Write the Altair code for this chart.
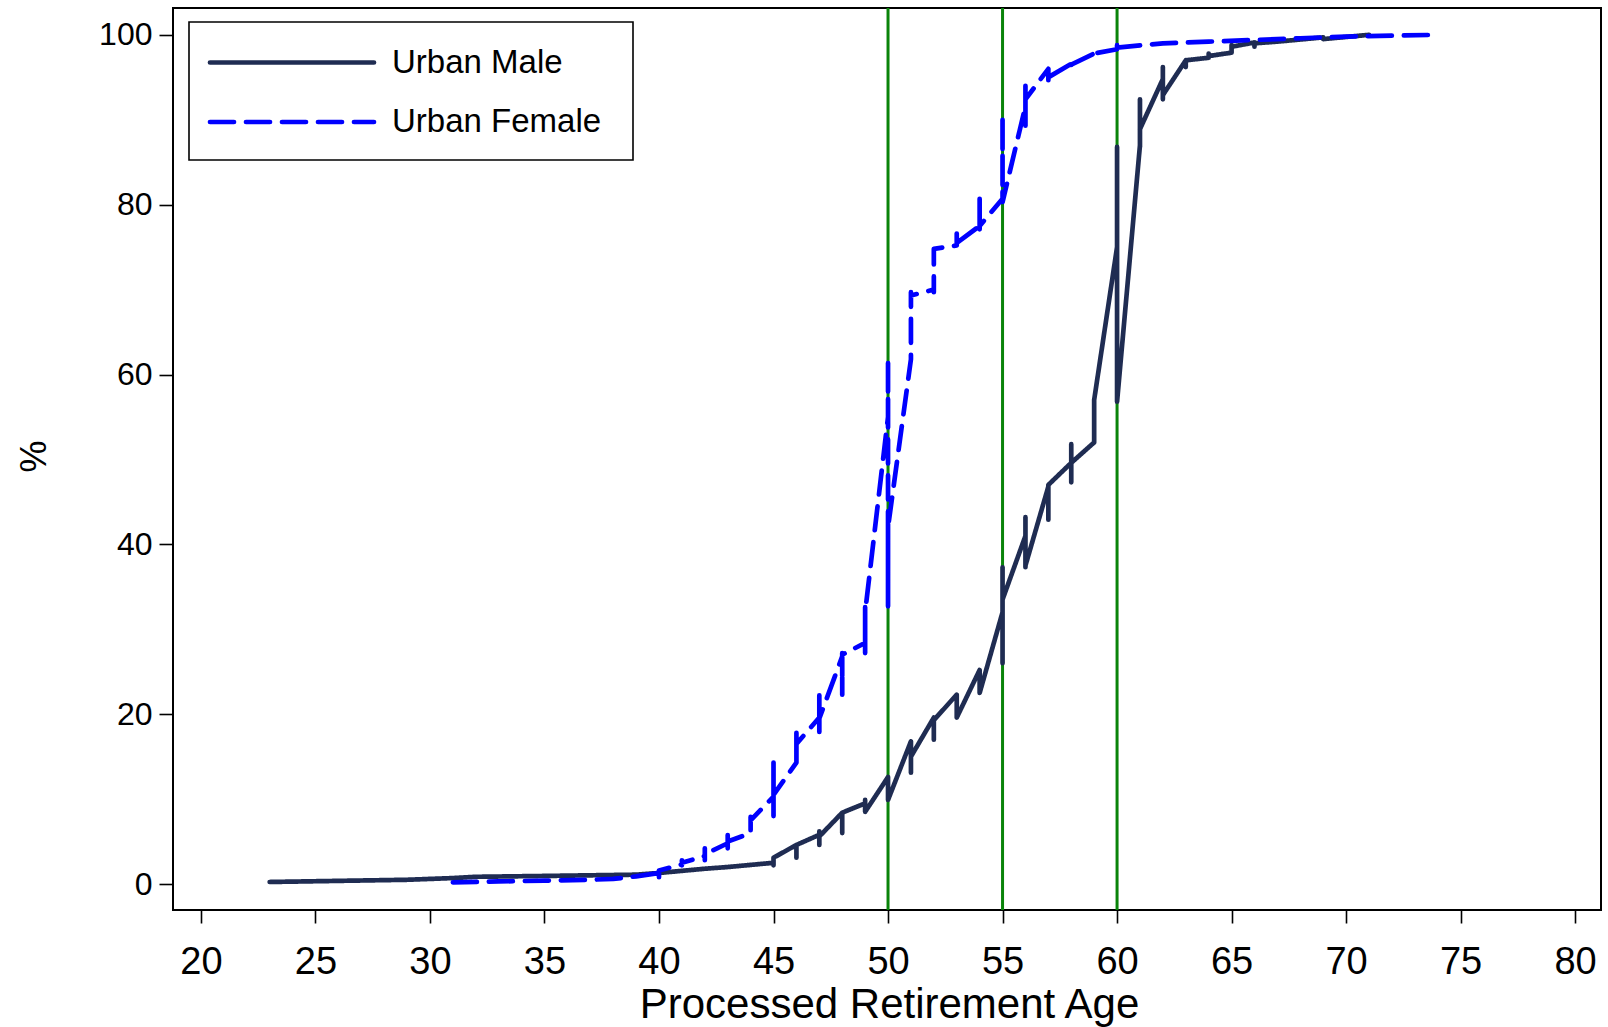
import altair as alt
import pandas as pd

# ---------------- data ----------------
series_names = ["Urban Male", "Urban Female"]
series_colors = ["#1f2c52", "#0000ff"]
ref_ages = [50, 55, 60]
x_ticks = [20, 25, 30, 35, 40, 45, 50, 55, 60, 65, 70, 75, 80]
y_ticks = [0, 20, 40, 60, 80, 100]

male_age = [23, 29, 31, 32, 35, 39, 40, 42, 43,
            45, 45, 45,
            46, 46, 46,
            47, 47, 47, 47,
            48, 48, 48,
            49, 49, 49,
            50, 50,
            51, 51, 51,
            52, 52, 52,
            53, 53,
            54, 54,
            55, 55, 55, 55,
            56, 56, 56, 56,
            57, 57, 57,
            58, 58, 58, 58,
            59, 59,
            60, 60, 60,
            61, 61, 61, 61,
            62, 62, 62, 62,
            63, 63, 63,
            64, 64, 64,
            65, 65, 65,
            66, 66, 66,
            67, 69, 69, 71]
male_pct = [0.24, 0.5, 0.7, 0.85, 0.95, 1.1, 1.3, 1.8, 2.0,
            2.5, 2.2, 3.1,
            4.6, 3.1, 4.6,
            5.8, 6.2, 4.6, 5.6,
            8.4, 6.0, 8.4,
            9.5, 9.9, 8.5,
            12.6, 9.9,
            16.8, 13.1, 15.0,
            19.6, 17.0, 19.3,
            22.3, 19.6,
            25.2, 22.5,
            32.0, 37.3, 26.0, 33.5,
            41.0, 43.2, 37.3, 37.5,
            46.8, 42.9, 47.0,
            49.6, 51.8, 47.3, 49.6,
            52.0, 57.0,
            75.0, 86.8, 56.8,
            87.0, 92.4, 86.8, 88.9,
            94.8, 96.2, 92.4, 92.9,
            97.0, 96.2, 97.0,
            97.3, 97.8, 97.5,
            97.9, 98.8, 98.6,
            99.1, 98.6, 99.0,
            99.2, 99.7, 99.5, 100.0]

female_age = [31, 33, 35, 37, 38, 39,
              40, 40, 40, 40,
              41, 41, 41, 41,
              42, 42, 42, 42,
              43, 43, 43, 43,
              44, 44, 44, 44,
              45, 45, 45, 45,
              46, 46, 46, 46,
              47, 47, 47, 47,
              48, 48, 48, 48,
              49, 49, 49, 49,
              50, 50, 50, 50,
              51, 51, 51,
              52, 52, 52,
              53, 53, 53, 53,
              54, 54, 54, 54,
              55, 55, 55,
              56, 56, 56, 56,
              57, 57, 57,
              58, 58, 58, 58,
              59, 59, 59, 59,
              60, 60, 60, 60,
              62, 64, 66, 68, 70, 74]
female_pct = [0.2, 0.3, 0.4, 0.5, 0.6, 0.9,
              1.3, 2.0, 0.8, 1.6,
              2.3, 2.8, 2.2, 2.5,
              3.3, 4.2, 2.8, 3.5,
              4.8, 5.8, 4.2, 5.0,
              6.0, 7.9, 5.8, 7.5,
              10.3, 14.3, 8.0, 10.5,
              14.3, 17.8, 14.5, 16.5,
              19.6, 22.3, 17.9, 19.5,
              26.8, 27.2, 22.3, 27.0,
              28.4, 32.6, 27.2, 32.0,
              55.0, 61.8, 32.7, 42.0,
              61.8, 69.7, 69.3,
              70.0, 69.7, 74.8,
              75.2, 76.6, 74.8, 75.5,
              77.5, 80.7, 77.1, 77.5,
              80.7, 90.4, 80.3,
              91.6, 94.0, 89.3, 92.4,
              96.0, 94.2, 95.0,
              96.6, 96.9, 96.2, 96.5,
              97.8, 98.0, 97.6, 97.8,
              98.3, 98.9, 98.0, 98.5,
              99.0, 99.2, 99.4, 99.6, 99.8, 100.0]

assert len(male_age) == len(male_pct)
assert len(female_age) == len(female_pct)

rows = []
for i, (a, p) in enumerate(zip(male_age, male_pct)):
    rows.append({"series": "Urban Male", "age": a, "pct": p, "idx": i})
for i, (a, p) in enumerate(zip(female_age, female_pct)):
    rows.append({"series": "Urban Female", "age": a, "pct": p, "idx": i})
df = pd.DataFrame(rows)
ref_df = pd.DataFrame({"age": ref_ages})

FONT = "Liberation Sans"
W, H = 1428, 902
LW = 4.7

x_scale = alt.Scale(domain=[18.78, 81.13], nice=False, zero=False)
y_scale = alt.Scale(domain=[-3.06, 103.16], nice=False, zero=False)

x_axis = alt.Axis(values=x_ticks, title="Processed Retirement Age", labelFontSize=38,
                  labelBaseline="alphabetic", labelPadding=50, titleFontSize=42,
                  titleFontWeight="normal", titleBaseline="alphabetic", titleY=107,
                  titleX=W / 2 + 2, tickSize=13)
y_axis = alt.Axis(values=y_ticks, title="%", labelFontSize=32, labelPadding=7,
                  titleFontSize=36, titleFontWeight="normal", titleAngle=270,
                  titleAlign="center", titleBaseline="middle", titleX=-139, titleY=448,
                  tickSize=14)

green = alt.Chart(ref_df).mark_rule(color="#0a840a", strokeWidth=3).encode(
    x=alt.X("age:Q", scale=x_scale, axis=x_axis)
)

color_scale = alt.Scale(domain=series_names, range=series_colors)
dash_scale = alt.Scale(domain=series_names, range=[[1, 0], [24, 12]])

def line_layer(name):
    return alt.Chart(df[df.series == name]).mark_line(
        strokeWidth=LW, strokeCap="round", strokeJoin="round"
    ).encode(
        x=alt.X("age:Q", scale=x_scale, axis=x_axis),
        y=alt.Y("pct:Q", scale=y_scale, axis=y_axis),
        order=alt.Order("idx:Q"),
        color=alt.Color("series:N", scale=color_scale, legend=None),
        strokeDash=alt.StrokeDash("series:N", scale=dash_scale, legend=None),
    )

male_line = line_layer("Urban Male")
female_line = line_layer("Urban Female")

# ---------------- legend (drawn as decoration) ----------------
leg_df = pd.DataFrame({"series": series_names})
legend_box = alt.Chart(leg_df.head(1)).mark_rect(
    fill="white", stroke="black", strokeWidth=1.6
).encode(x=alt.value(16), x2=alt.value(460), y=alt.value(14), y2=alt.value(152))

row_y = [54.5, 114]
legend_layers = [legend_box]
for name, col, yy, dash in zip(series_names, series_colors, row_y, [[1, 0], [24, 12]]):
    sub = leg_df[leg_df.series == name]
    legend_layers.append(
        alt.Chart(sub).mark_rule(color=col, strokeWidth=LW, strokeCap="round",
                                 strokeDash=dash).encode(
            x=alt.value(37), x2=alt.value(201), y=alt.value(yy))
    )
    legend_layers.append(
        alt.Chart(sub).mark_text(align="left", baseline="middle", fontSize=33,
                                 font=FONT, color="black").encode(
            x=alt.value(219), y=alt.value(yy), text="series:N")
    )

chart = alt.layer(green, male_line, female_line, *legend_layers).properties(
    width=W, height=H,
    padding={"left": 173, "top": 8, "right": 7, "bottom": 117},
    autosize=alt.AutoSizeParams(type="none"),
    background="white",
).configure_view(
    stroke="black", strokeWidth=2
).configure_axis(
    domain=False, grid=False, tickColor="black", tickWidth=1.6,
    labelColor="black", titleColor="black", labelFont=FONT, titleFont=FONT,
)

chart.save("out.html", embed_options={"renderer": "svg", "actions": False})
